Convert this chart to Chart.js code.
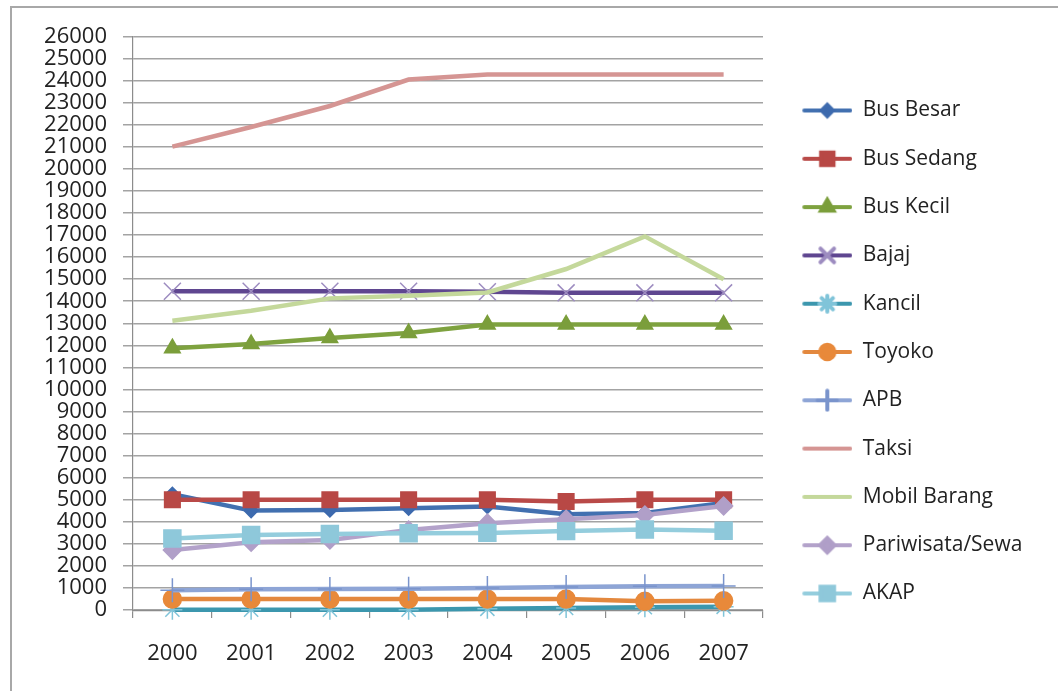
<!DOCTYPE html>
<html>
<head>
<meta charset="utf-8">
<script src="https://cdn.jsdelivr.net/npm/chart.js@4.4.1/dist/chart.umd.min.js"></script>
<style>
  html, body { margin: 0; padding: 0; background: #fff; }
  #wrap { position: relative; width: 1058px; height: 691px; overflow: hidden; }
  #frame { position: absolute; left: 10px; top: 6px; width: 1100px; height: 800px; border: 2px solid #a8a8a8; }
  canvas { position: absolute; left: 0; top: 0; }
</style>
</head>
<body>
<div id="wrap">
  <div id="frame"></div>
  <canvas id="myChart" width="1058" height="691"></canvas>
</div>
<script>
// data
var years = ['2000', '2001', '2002', '2003', '2004', '2005', '2006', '2007'];
var busBesar    = [5250, 4510, 4540, 4620, 4700, 4350, 4400, 4850];
var busSedang   = [5000, 5000, 5000, 5000, 5000, 4920, 5000, 5000];
var busKecil    = [11870, 12060, 12330, 12560, 12940, 12940, 12940, 12940];
var bajaj       = [14450, 14450, 14450, 14450, 14430, 14380, 14380, 14380];
var kancil      = [20, 20, 20, 20, 60, 100, 130, 150];
var toyoko      = [500, 500, 500, 500, 500, 500, 400, 420];
var apb         = [900, 950, 960, 970, 1000, 1050, 1080, 1090];
var taksi       = [21010, 21900, 22850, 24050, 24280, 24280, 24280, 24280];
var mobilBarang = [13120, 13570, 14130, 14250, 14400, 15460, 16940, 15000];
var pariwisata  = [2720, 3075, 3180, 3630, 3940, 4120, 4310, 4720];
var akap        = [3250, 3400, 3450, 3480, 3500, 3580, 3650, 3600];

var FONT = '"Open Sans", "DejaVu Sans", sans-serif';
var TEXT = '#222';

// name, values, line colour, marker colour, marker style, marker radius
var series = [
  ['Bus Besar', busBesar, '#4270b0', '#3d6aae', 'rectRot', 7],
  ['Bus Sedang', busSedang, '#b94a48', '#b84845', 'rect', 11],
  ['Bus Kecil', busKecil, '#7ea23f', '#7b9e3b', 'triangle', 9],
  ['Bajaj', bajaj, '#5f4690', '#9d8cc0', 'crossRot', 12],
  ['Kancil', kancil, '#3c97ae', '#80c4d9', 'star', 10],
  ['Toyoko', toyoko, '#e3883e', '#e8893a', 'circle', 9],
  ['APB', apb, '#8ea5d6', '#7a94cc', 'cross', 12],
  ['Taksi', taksi, '#d59593', '#d59593', false, 0],
  ['Mobil Barang', mobilBarang, '#c4d89b', '#c4d89b', false, 0],
  ['Pariwisata/Sewa', pariwisata, '#b3a2ca', '#b09fc8', 'rectRot', 9],
  ['AKAP', akap, '#94cddd', '#8ec8da', 'rect', 12]
];

function legendIcon(s) {
  var c = document.createElement('canvas');
  c.width = 62; c.height = 24;
  var g = c.getContext('2d');
  g.strokeStyle = s[2];
  g.lineWidth = 4;
  g.lineCap = 'round';
  g.beginPath(); g.moveTo(14, 12); g.lineTo(60, 12); g.stroke();
  if (s[4]) {
    g.fillStyle = s[3];
    g.strokeStyle = s[3];
    Chart.helpers.drawPoint(g, {pointStyle: s[4], radius: s[5] * 0.8, rotation: 0, borderWidth: 1.5}, 37, 12);
  }
  return c;
}

var datasets = series.map(function (s, i) {
  return {
    label: s[0],
    data: s[1],
    borderColor: s[2],
    backgroundColor: s[3],
    borderWidth: 4.5,
    tension: 0,
    clip: false,
    pointStyle: s[4],
    pointRadius: s[5],
    pointHoverRadius: s[5],
    pointBackgroundColor: s[3],
    pointBorderColor: s[3],
    pointBorderWidth: 1.5,
    order: series.length - i
  };
});

var icons = series.map(legendIcon);

// pins the legend box so the plot ends where the reference's does
var legendFix = {
  id: 'legendFix',
  beforeUpdate: function (ch) {
    var lg = ch.legend;
    if (lg && !lg._patched) {
      var fit = lg.fit;
      lg.fit = function () { fit.call(this); this.width = 295; };
      lg._patched = true;
    }
  },
  afterLayout: function (ch) {
    ch.legend.top -= 10.5;
    ch.legend.bottom -= 10.5;
  }
};

var ctx = document.getElementById('myChart').getContext('2d');
var chart = new Chart(ctx, {
  type: 'line',
  data: { labels: years, datasets: datasets },
  plugins: [legendFix],
  options: {
    responsive: false,
    animation: false,
    layout: { padding: { left: 10, top: 36.5, right: 0, bottom: 2.5 } },
    plugins: {
      tooltip: { enabled: false },
      legend: {
        position: 'right',
        labels: {
          usePointStyle: true,
          pointStyleWidth: 62,
          padding: 27.3,
          color: TEXT,
          font: { family: FONT, size: 21 },
          generateLabels: function (ch) {
            return ch.data.datasets.map(function (d, i) {
              return { text: d.label, pointStyle: icons[i], fillStyle: 'transparent', strokeStyle: 'transparent', lineWidth: 0, datasetIndex: i, fontColor: TEXT };
            });
          }
        }
      }
    },
    scales: {
      x: {
        offset: true,
        grid: { offset: true, drawOnChartArea: false, tickLength: 8, color: '#8c8c8c', lineWidth: 1.2 },
        border: { color: '#8c8c8c', width: 1.2 },
        ticks: { color: TEXT, padding: 22, font: { family: FONT, size: 22 } }
      },
      y: {
        min: 0,
        max: 26000,
        afterFit: function (scale) { scale.width = 123; },
        grid: { color: '#a3a3a3', lineWidth: 1.5, tickLength: 10 },
        border: { color: '#8c8c8c', width: 1.2 },
        ticks: {
          stepSize: 1000,
          autoSkip: false,
          color: TEXT,
          padding: 16,
          font: { family: FONT, size: 22 },
          callback: function (v) { return String(v); }
        }
      }
    }
  }
});
</script>
</body>
</html>
